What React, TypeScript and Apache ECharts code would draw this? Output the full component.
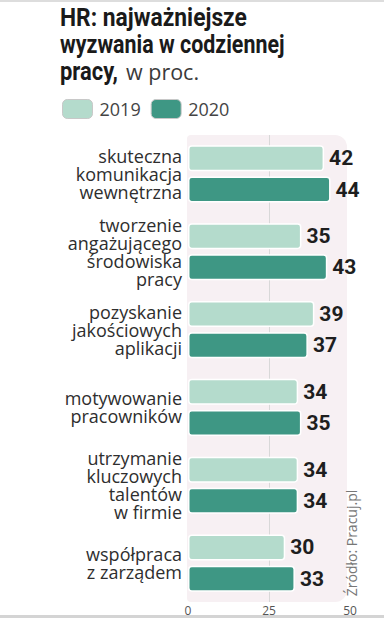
import React, { useEffect, useRef } from "react";
import * as echarts from "echarts";

const categories = [
  "skuteczna\nkomunikacja\nwewnętrzna",
  "tworzenie\nangażującego\nśrodowiska\npracy",
  "pozyskanie\njakościowych\naplikacji",
  "motywowanie\npracowników",
  "utrzymanie\nkluczowych\ntalentów\nw firmie",
  "współpraca\nz zarządem",
];
const values2019 = [42, 35, 39, 34, 34, 30];
const values2020 = [44, 43, 37, 35, 34, 33];
const seriesNames = ["2019", "2020"];
const axisMin = 0;
const axisMax = 50;
const axisStep = 25;
const titleLines = ["HR: najważniejsze", "wyzwania w codziennej", "pracy,"];
const titleUnit = "w proc.";
const sourceText = "Źródło: Pracuj.pl";

const BOLD = "Roboto, 'Noto Sans', sans-serif";
const SANS = "'Open Sans', 'Noto Sans', sans-serif";

export default function App() {
  const ref = useRef<HTMLDivElement>(null);
  useEffect(() => {
    if (!ref.current) return;
    const chart = echarts.init(ref.current, undefined, { renderer: "svg" });
    const labelStyle = {
      show: true,
      position: "right" as const,
      distance: 5,
      fontFamily: BOLD,
      fontWeight: "bold" as const,
      fontSize: 21,
      color: "#1e1e1e",
    };
    const titleScales = [0.895, 0.84, 0.86];
    const titleTexts = titleLines.map((t, i) => ({
      type: "text",
      x: 60,
      y: 4 + i * 27,
      scaleX: titleScales[i],
      style: {
        text: t,
        fontFamily: BOLD,
        fontWeight: "bold",
        fontSize: 25.5,
        lineHeight: 27,
        fill: "#1a1a1a",
        textVerticalAlign: "top",
      },
    }));
    chart.setOption({
      animation: false,
      backgroundColor: "#ffffff",
      legend: {
        data: seriesNames,
        left: 62,
        top: 99,
        padding: 0,
        itemWidth: 30,
        itemHeight: 19,
        itemGap: 10,
        icon: "roundRect",
        itemStyle: { borderColor: "#c8c8c8", borderWidth: 1 },
        textStyle: { fontFamily: SANS, fontSize: 18, color: "#444", padding: [0, 0, 0, 2] },
      },
      grid: { left: 188, right: 34, top: 135, bottom: 16, containLabel: false },
      xAxis: {
        type: "value",
        min: axisMin,
        max: axisMax,
        interval: axisStep,
        axisLine: { show: false },
        axisTick: { show: false },
        splitLine: { show: false },
        axisLabel: { fontFamily: SANS, fontSize: 12, color: "#555", margin: 2 },
      },
      yAxis: {
        type: "category",
        inverse: true,
        data: categories,
        axisLine: { show: false },
        axisTick: { show: false },
        axisLabel: { fontFamily: SANS, fontSize: 18, lineHeight: 18, color: "#2e2e2e", margin: 6, align: "right" },
      },
      graphic: [
        { type: "rect", z: -10, shape: { x: 187, y: 135, width: 160, height: 467, r: [4, 12, 12, 4] }, style: { fill: "#f7f0f3" } },
        { type: "rect", z: 10, shape: { x: 0, y: 0, width: 384, height: 2 }, style: { fill: "#dddddd" } },
        { type: "rect", z: 10, shape: { x: 0, y: 615, width: 384, height: 3 }, style: { fill: "#d4d4d4" } },
        ...titleTexts,
        {
          type: "text",
          x: 126,
          y: 58,
          style: {
            text: titleUnit,
            fontFamily: SANS,
            fontSize: 21.5,
            lineHeight: 27,
            fill: "#3a3a3a",
            textVerticalAlign: "top",
          },
        },
        {
          type: "text",
          x: 351,
          y: 543,
          rotation: Math.PI / 2,
          style: {
            text: sourceText,
            fontFamily: SANS,
            fontSize: 14,
            fill: "#777",
            textAlign: "center",
            textVerticalAlign: "middle",
          },
        },
      ],
      series: [
        {
          name: seriesNames[0],
          type: "bar",
          data: values2019,
          barWidth: 26,
          barGap: "20%",
          itemStyle: { color: "#b4dbcc", borderColor: "#ffffff", borderWidth: 1.5, borderRadius: 3 },
          label: labelStyle,
          markLine: {
            silent: true,
            symbol: "none",
            label: { show: false },
            lineStyle: { color: "#d8d8d8", width: 1, type: "solid" },
            data: [{ xAxis: axisStep }],
            z: 1,
          },
        },
        {
          name: seriesNames[1],
          type: "bar",
          data: values2020,
          barWidth: 26,
          itemStyle: { color: "#3e9784", borderColor: "#ffffff", borderWidth: 1.5, borderRadius: 3 },
          label: labelStyle,
        },
      ],
    });
    return () => chart.dispose();
  }, []);
  return <div ref={ref} style={{ position: "fixed", left: 0, top: 0, width: 384, height: 618 }} />;
}
